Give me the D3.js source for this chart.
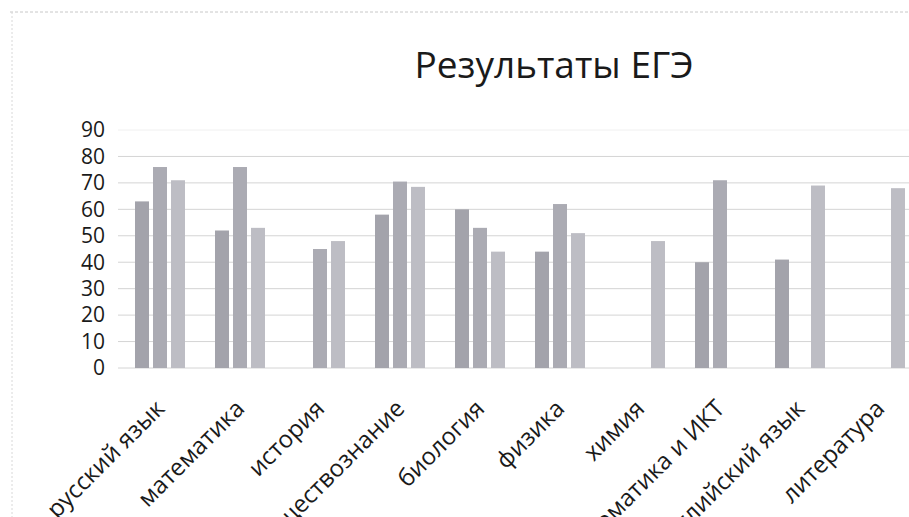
<!DOCTYPE html>
<html>
<head>
<meta charset="utf-8">
<script src="https://cdn.jsdelivr.net/npm/d3@7"></script>
<style>
  body { margin: 0; background: #fff; }
  text { font-family: "Open Sans", "Noto Sans", sans-serif; fill: #1a1a1a; }
</style>
</head>
<body>
<div id="chart"></div>
<script>
// subjects on the x axis
var subjects = ['русский язык', 'математика', 'история', 'обществознание', 'биология',
                'физика', 'химия', 'информатика и ИКТ', 'английский язык', 'литература'];
var series_names = ['s1', 's2', 's3'];
// three years of results, null = no bar
var s1_values = [63, 52, null, 58, 60, 44, null, 40, 41, null];
var s2_values = [76, 76, 45, 70.5, 53, 62, null, 71, null, null];
var s3_values = [71, 53, 48, 68.5, 44, 51, 48, null, 69, 68];
var y_ticks = [0, 10, 20, 30, 40, 50, 60, 70, 80, 90];
var colors = ['#a3a3ab', '#ababb3', '#bdbdc4'];

var width = 909, height = 517;
var all_values = [s1_values, s2_values, s3_values];

var svg = d3.select('#chart').append('svg')
    .attr('width', width)
    .attr('height', height);

// faint scan border
svg.append('line')
    .attr('x1', 10).attr('y1', 12).attr('x2', width).attr('y2', 12)
    .attr('stroke', '#c8c8c8').attr('stroke-width', 1).attr('stroke-dasharray', '3,2');
svg.append('line')
    .attr('x1', 12).attr('y1', 12).attr('x2', 12).attr('y2', height)
    .attr('stroke', '#d8d8d8').attr('stroke-width', 1).attr('stroke-dasharray', '2,2');

var x0 = d3.scaleBand()
    .domain(subjects)
    .range([120, 920])
    .padding(0);

var x1 = d3.scaleBand()
    .domain(series_names)
    .range([15, 65])
    .paddingInner(0.222)
    .paddingOuter(0);

var y = d3.scaleLinear()
    .domain([0, 90])
    .range([368, 130]);

// gridlines
svg.selectAll('line.grid')
    .data(y_ticks)
    .enter()
    .append('line')
    .attr('class', 'grid')
    .attr('x1', 118)
    .attr('x2', width)
    .attr('y1', function(d){ return y(d); })
    .attr('y2', function(d){ return y(d); })
    .attr('stroke', function(d){ return d == 90 ? '#f0f0f0' : '#d4d4d4'; })
    .attr('stroke-width', 1);

// y labels
svg.selectAll('text.ylab')
    .data(y_ticks)
    .enter()
    .append('text')
    .attr('class', 'ylab')
    .attr('x', 105)
    .attr('y', function(d){ return y(d); })
    .attr('dy', '0.35em')
    .attr('text-anchor', 'end')
    .attr('font-size', '21px')
    .text(function(d){ return d; });

// bars
var bars = [];
for (var s = 0; s < series_names.length; s++)
{
    for (var i = 0; i < subjects.length; i++)
    {
        if (all_values[s][i] != null)
        {
            bars.push({subject: subjects[i], series: series_names[s], value: all_values[s][i], color: colors[s]});
        }
    }
}

svg.selectAll('rect.bar')
    .data(bars)
    .enter()
    .append('rect')
    .attr('class', 'bar')
    .attr('x', function(d){ return x0(d.subject) + x1(d.series); })
    .attr('width', x1.bandwidth())
    .attr('y', function(d){ return y(d.value); })
    .attr('height', function(d){ return y(0) - y(d.value); })
    .attr('fill', function(d){ return d.color; });

// x labels, rotated (long ones run off the bottom, as in the scan)
svg.selectAll('text.xlab')
    .data(subjects)
    .enter()
    .append('text')
    .attr('class', 'xlab')
    .attr('font-size', '24px')
    .attr('text-anchor', 'end')
    .attr('transform', function(d){
        var cx = x0(d) + x0.bandwidth() / 2 + 6;
        return 'translate(' + cx + ',410) rotate(-45)';
    })
    .text(function(d){ return d; });

// title
svg.append('text')
    .attr('x', 554)
    .attr('y', 78)
    .attr('text-anchor', 'middle')
    .attr('font-size', '37px')
    .text('Результаты ЕГЭ');
</script>
</body>
</html>
